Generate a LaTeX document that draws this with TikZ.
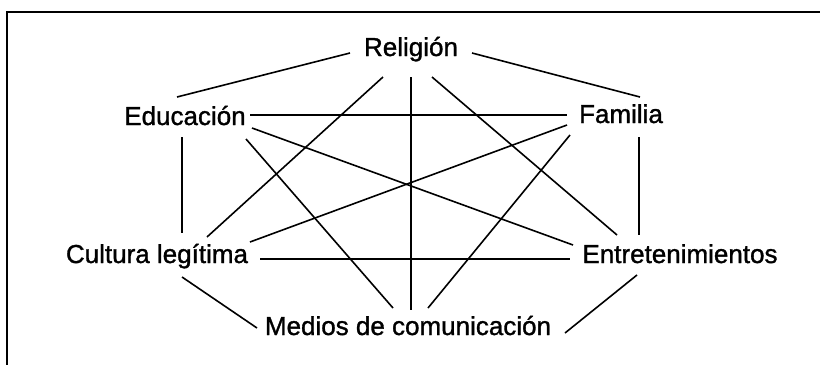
\documentclass[tikz,border=0pt]{standalone}
\usepackage{fontspec}
\setmainfont{Liberation Sans}
\newfontfamily\lblfont[FakeBold=1.2]{Liberation Sans}
\begin{document}
\begin{tikzpicture}[x=1pt,y=-1pt,
  lbl/.style={inner sep=0pt,anchor=base,font=\lblfont\fontsize{26}{30}\selectfont},
  link/.style={line width=1.6pt,black},
  frame/.style={line width=2.2pt,black}]
\useasboundingbox (0,0) rectangle (820,365);
% frame
\coordinate (ftl) at (7,12);
\coordinate (ftr) at (820,12);
\coordinate (fbl) at (7,365);
\draw[frame] (ftr) -- (ftl) -- (fbl);
% nodes
\node[lbl] (rel) at (411,56) {Religión};
\node[lbl] (edu) at (185,125) {Educación};
\node[lbl] (fam) at (621,123) {Familia};
\node[lbl] (cul) at (157,263) {Cultura legítima};
\node[lbl] (ent) at (680,263) {Entretenimientos};
\node[lbl] (med) at (408,335) {Medios de comunicación};
% links
\newcommand\lnk[4]{\draw[link] ([shift={#2}]#1.base) -- ([shift={#4}]#3.base);}
\lnk{rel}{(-61,-3)}{edu}{(-8,-28)}
\lnk{rel}{(61,-3)}{fam}{(19,-26)}
\lnk{rel}{(-28,21)}{cul}{(50,-26)}
\lnk{rel}{(21,21)}{ent}{(-63,-28)}
\lnk{rel}{(0,21)}{med}{(3,-25)}
\lnk{edu}{(65,-10)}{fam}{(-54,-8)}
\lnk{edu}{(-3,12)}{cul}{(25,-30)}
\lnk{edu}{(67,3)}{ent}{(-107,-18)}
\lnk{edu}{(61,14)}{med}{(-15,-27)}
\lnk{fam}{(-54,2)}{cul}{(93,-21)}
\lnk{fam}{(18,14)}{ent}{(-41,-28)}
\lnk{fam}{(-51,12)}{med}{(20,-27)}
\lnk{cul}{(103,-4)}{ent}{(-110,-4)}
\lnk{cul}{(25,14)}{med}{(-151,-7)}
\lnk{ent}{(-43,12)}{med}{(157,-2)}
\end{tikzpicture}
\end{document}
